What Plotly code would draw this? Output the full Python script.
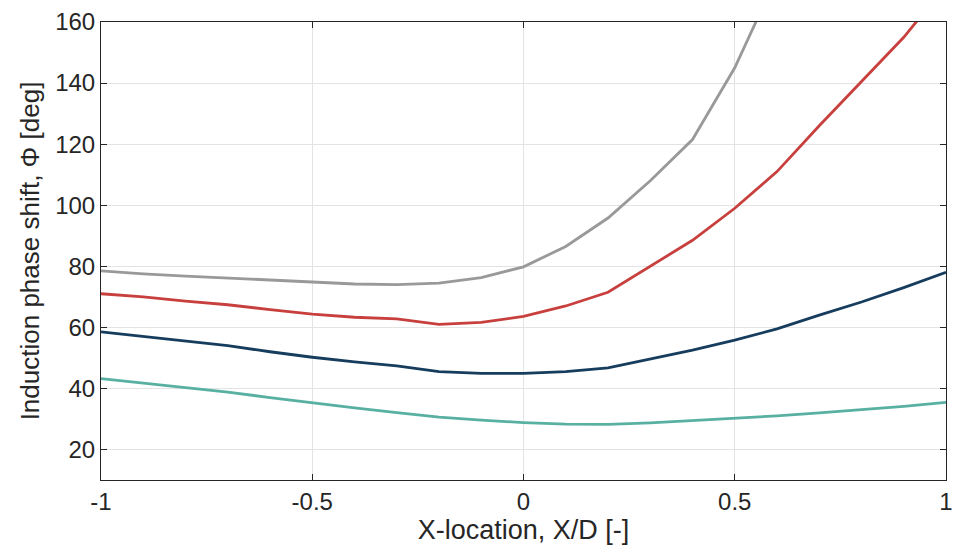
import plotly.graph_objects as go

x_vals = [-1.0, -0.9, -0.8, -0.7, -0.6, -0.5, -0.4, -0.3, -0.2, -0.1, 0.0,
          0.1, 0.2, 0.3, 0.4, 0.5, 0.6, 0.7, 0.8, 0.9, 1.0]

gray_vals = [78.5, 77.5, 76.8, 76.2, 75.5, 75.0, 74.2, 74.0, 74.5, 76.3, 79.8,
             86.5, 95.8, 108.0, 121.5, 145.0, 175.0, 205.0, 235.0, 265.0, 295.0]
red_vals = [71.0, 70.0, 68.6, 67.4, 65.8, 64.3, 63.3, 62.8, 61.0, 61.6, 63.6,
            67.0, 71.5, 80.0, 88.5, 99.0, 111.0, 126.0, 140.5, 155.0, 172.0]
navy_vals = [58.5, 57.0, 55.5, 54.0, 52.0, 50.2, 48.7, 47.4, 45.5, 44.9, 44.9,
             45.5, 46.7, 49.5, 52.5, 55.8, 59.5, 64.0, 68.3, 73.0, 78.0]
teal_vals = [43.2, 41.8, 40.2, 38.8, 37.0, 35.2, 33.6, 32.1, 30.6, 29.6, 28.8,
             28.3, 28.2, 28.7, 29.4, 30.2, 31.0, 32.0, 33.0, 34.1, 35.4]

x_ticks = [-1, -0.5, 0, 0.5, 1]
x_tick_labels = ["-1", "-0.5", "0", "0.5", "1"]
y_ticks = [20, 40, 60, 80, 100, 120, 140, 160]

series = [
    ("gray", gray_vals, "#999999"),
    ("red", red_vals, "#c8403e"),
    ("navy", navy_vals, "#173d5e"),
    ("teal", teal_vals, "#58b0a3"),
]

fig = go.Figure()
for name, vals, color in series:
    fig.add_trace(go.Scatter(x=x_vals, y=vals, mode="lines", name=name,
                             line=dict(color=color, width=2.8), showlegend=False))

FONT = "Liberation Sans, Arial, Helvetica"
axis_common = dict(
    showline=True, linecolor="#262626", linewidth=1, mirror="ticks",
    ticks="inside", ticklen=6, tickcolor="#262626",
    showgrid=True, gridcolor="#e3e3e3", gridwidth=1,
    zeroline=False,
    tickfont=dict(family=FONT, size=24, color="#262626"),
)

fig.update_layout(
    width=961, height=560,
    margin=dict(l=101, r=8, t=19, b=80),
    paper_bgcolor="white", plot_bgcolor="white",
    xaxis=dict(range=[-1, 1], tickvals=x_ticks, ticktext=x_tick_labels,
               title=dict(text="X-location, X/D [-]", standoff=6,
                          font=dict(family=FONT, size=27, color="#262626")),
               **axis_common),
    yaxis=dict(range=[10, 160], tickvals=y_ticks,
               title=dict(text="Induction phase shift, Φ [deg]", standoff=8,
                          font=dict(family=FONT, size=26, color="#262626")),
               **axis_common),
)

fig.write_html("out.html")
